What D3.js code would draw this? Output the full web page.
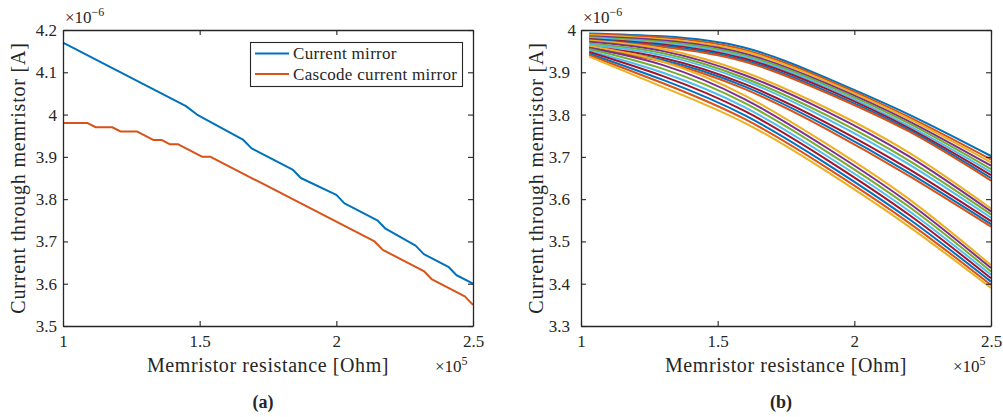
<!DOCTYPE html>
<html>
<head>
<meta charset="utf-8">
<script src="https://cdn.jsdelivr.net/npm/d3@7"></script>
<style>
  body { margin: 0; background: #fff; }
  svg { display: block; }
  text { font-family: "Liberation Serif", "DejaVu Serif", serif; fill: #262626; }
</style>
</head>
<body>
<svg id="chart" width="1003" height="417"></svg>
<script>
// ---- Panel (a): current mirror vs. cascode current mirror ----
const RES_MIRROR = [1.00, 1.45, 1.49, 1.66, 1.69, 1.84, 1.87, 2.00, 2.03, 2.15, 2.18, 2.29, 2.32, 2.41, 2.44, 2.50];
const I_MIRROR   = [4.17, 4.02, 4.00, 3.94, 3.92, 3.87, 3.85, 3.81, 3.79, 3.75, 3.73, 3.69, 3.67, 3.64, 3.62, 3.60];
const RES_CASCODE = [1.00, 1.09, 1.12, 1.18, 1.21, 1.27, 1.33, 1.36, 1.39, 1.42, 1.51, 1.54, 2.14, 2.17, 2.32, 2.35, 2.47, 2.50];
const I_CASCODE   = [3.98, 3.98, 3.97, 3.97, 3.96, 3.96, 3.94, 3.94, 3.93, 3.93, 3.90, 3.90, 3.70, 3.68, 3.63, 3.61, 3.57, 3.55];
const SERIES_NAMES = ["Current mirror", "Cascode current mirror"];

// ---- Panel (b): parameter sweep, current at each resistance sample ----
const RES_SWEEP = [1.03, 1.30, 1.60, 1.90, 2.20, 2.50];
const SWEEP_HIGH = [
  [3.992, 3.985, 3.958, 3.886, 3.800, 3.702],
  [3.990, 3.982, 3.953, 3.882, 3.794, 3.694],
  [3.988, 3.978, 3.949, 3.878, 3.790, 3.687],
  [3.985, 3.975, 3.944, 3.873, 3.784, 3.679],
  [3.983, 3.972, 3.940, 3.869, 3.779, 3.671],
  [3.981, 3.969, 3.936, 3.865, 3.773, 3.664],
  [3.979, 3.966, 3.932, 3.860, 3.768, 3.657],
  [3.977, 3.963, 3.928, 3.855, 3.764, 3.650],
  [3.975, 3.960, 3.925, 3.851, 3.760, 3.644]
];
const SWEEP_MID = [
  [3.975, 3.955, 3.900, 3.815, 3.710, 3.578],
  [3.972, 3.950, 3.893, 3.807, 3.701, 3.571],
  [3.968, 3.945, 3.886, 3.798, 3.691, 3.564],
  [3.965, 3.940, 3.880, 3.790, 3.682, 3.556],
  [3.961, 3.934, 3.872, 3.780, 3.671, 3.548],
  [3.958, 3.929, 3.866, 3.772, 3.662, 3.541],
  [3.955, 3.925, 3.860, 3.765, 3.655, 3.535]
];
const SWEEP_LOW = [
  [3.962, 3.925, 3.845, 3.730, 3.600, 3.444],
  [3.958, 3.917, 3.836, 3.721, 3.591, 3.437],
  [3.955, 3.908, 3.827, 3.712, 3.582, 3.429],
  [3.951, 3.899, 3.817, 3.702, 3.572, 3.421],
  [3.948, 3.891, 3.808, 3.693, 3.563, 3.413],
  [3.944, 3.882, 3.798, 3.683, 3.553, 3.405],
  [3.941, 3.874, 3.789, 3.674, 3.544, 3.397],
  [3.937, 3.865, 3.780, 3.665, 3.535, 3.390]
];

const X_TICKS = [1, 1.5, 2, 2.5];
const Y_TICKS_A = [3.5, 3.6, 3.7, 3.8, 3.9, 4.0, 4.1, 4.2];
const Y_TICKS_B = [3.3, 3.4, 3.5, 3.6, 3.7, 3.8, 3.9, 4.0];
const PALETTE = ["#0072BD", "#D95319", "#EDB120", "#7E2F8E", "#77AC30", "#4DBEEE", "#A2142F"];

const X_LABEL = "Memristor resistance [Ohm]";
const Y_LABEL = "Current through memristor [A]";

const FONT = "'Liberation Serif', 'DejaVu Serif', serif";
const svg = d3.select("#chart");
const AXIS_COLOR = "#262626";
const TOP = 30, BOTTOM = 326, WIDTH = 410;

function panel(left, yDomain, yTicks, tag, yLabelPad) {
  const g = svg.append("g");
  const x = d3.scaleLinear().domain([1, 2.5]).range([left, left + WIDTH]);
  const y = d3.scaleLinear().domain(yDomain).range([BOTTOM, TOP]);
  const fmt = d => String(+d.toFixed(1));

  const style = sel => {
    sel.attr("font-family", FONT);
    sel.select(".domain").attr("stroke", AXIS_COLOR).attr("stroke-width", 1.3);
    sel.selectAll(".tick line").attr("stroke", AXIS_COLOR).attr("stroke-width", 1.1);
    sel.selectAll(".tick text").attr("font-family", FONT)
      .attr("font-size", 17).attr("fill", AXIS_COLOR);
  };

  const axes = g.append("g");
  axes.append("g").attr("transform", `translate(0,${BOTTOM})`)
    .call(d3.axisBottom(x).tickValues(X_TICKS).tickFormat(fmt).tickSizeInner(-5).tickSizeOuter(0).tickPadding(9))
    .call(style);
  axes.append("g").attr("transform", `translate(0,${TOP})`)
    .call(d3.axisTop(x).tickValues(X_TICKS).tickFormat("").tickSizeInner(-5).tickSizeOuter(0))
    .call(style);
  const yl = axes.append("g").attr("transform", `translate(${left},0)`)
    .call(d3.axisLeft(y).tickValues(yTicks).tickFormat(fmt).tickSizeInner(-5).tickSizeOuter(0).tickPadding(yLabelPad))
    .call(style);
  if (yLabelPad > 8) {
    yl.selectAll(".tick text").filter(d => Number.isInteger(+d.toFixed(1))).attr("dx", yLabelPad - 5);
  }
  axes.append("g").attr("transform", `translate(${left + WIDTH},0)`)
    .call(d3.axisRight(y).tickValues(yTicks).tickFormat("").tickSizeInner(-5).tickSizeOuter(0))
    .call(style);

  // exponent markers
  const e1 = g.append("text").attr("x", left + 2).attr("y", 23).attr("font-size", 17);
  e1.append("tspan").text("×10");
  e1.append("tspan").attr("dy", -7).attr("font-size", 12).text("−6");
  const e2 = g.append("text").attr("x", left + WIDTH - 38).attr("y", 372).attr("font-size", 17);
  e2.append("tspan").text("×10");
  e2.append("tspan").attr("dy", -7).attr("font-size", 12).text("5");

  // axis titles
  g.append("text").attr("x", left + WIDTH / 2).attr("y", 372)
    .attr("text-anchor", "middle").attr("font-size", 20).attr("letter-spacing", 0.6)
    .text(X_LABEL);
  g.append("text").attr("transform", `translate(${left - 38},${(TOP + BOTTOM) / 2}) rotate(-90)`)
    .attr("text-anchor", "middle").attr("font-size", 20).attr("letter-spacing", 0.8)
    .text(Y_LABEL);

  g.append("text").attr("x", left + WIDTH / 2 - 5).attr("y", 408)
    .attr("text-anchor", "middle").attr("font-size", 18).attr("font-weight", "bold")
    .text(tag);

  return { g, x, y, axes };
}

// panel (a)
const A = panel(63, [3.5, 4.2], Y_TICKS_A, "(a)", 6);
const lineA = (xs, ys) => d3.line().x((d, i) => A.x(xs[i])).y(d => A.y(d))(ys);
A.g.insert("path", "g").attr("d", lineA(RES_MIRROR, I_MIRROR))
  .attr("fill", "none").attr("stroke", PALETTE[0]).attr("stroke-width", 2).attr("stroke-linejoin", "round");
A.g.insert("path", "g").attr("d", lineA(RES_CASCODE, I_CASCODE))
  .attr("fill", "none").attr("stroke", PALETTE[1]).attr("stroke-width", 2).attr("stroke-linejoin", "round");

// legend
const leg = A.g.append("g");
leg.append("rect").attr("x", 250.5).attr("y", 42.5).attr("width", 212).attr("height", 44)
  .attr("fill", "#fff").attr("stroke", AXIS_COLOR).attr("stroke-width", 1.1);
SERIES_NAMES.forEach((name, i) => {
  const cy = 53.5 + i * 20.5;
  leg.append("line").attr("x1", 255).attr("x2", 289).attr("y1", cy).attr("y2", cy)
    .attr("stroke", PALETTE[i]).attr("stroke-width", 2);
  leg.append("text").attr("x", 293).attr("y", cy + 5.5).attr("font-size", 17)
    .attr("letter-spacing", 0.3).text(name);
});

// panel (b)
const B = panel(581, [3.3, 4.0], Y_TICKS_B, "(b)", 11);
const lineB = d3.line().x((d, i) => B.x(RES_SWEEP[i])).y(d => B.y(d)).curve(d3.curveNatural);
const sweep = [...SWEEP_HIGH, ...SWEEP_MID, ...SWEEP_LOW];
const curves = B.g.insert("g", "g");
sweep.forEach((row, i) => {
  curves.append("path").attr("d", lineB(row))
    .attr("fill", "none").attr("stroke", PALETTE[i % PALETTE.length]).attr("stroke-width", 2);
});
</script>
</body>
</html>
